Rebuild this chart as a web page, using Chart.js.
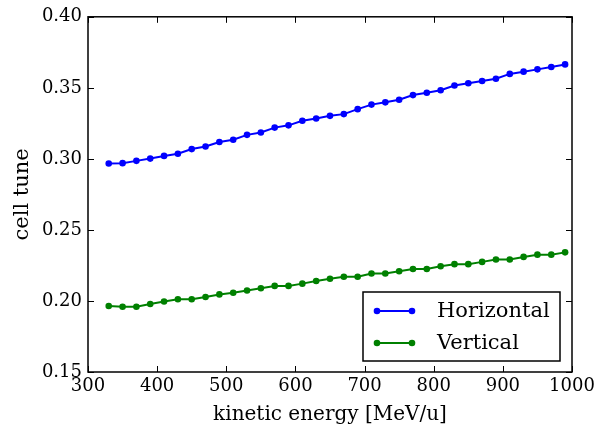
<!DOCTYPE html>
<html>
<head>
<meta charset="utf-8">
<script src="https://cdn.jsdelivr.net/npm/chart.js@4.4.0/dist/chart.umd.min.js"></script>
<style>
  html, body { margin: 0; padding: 0; background: #fff; }
  #wrap { width: 601px; height: 432px; }
</style>
</head>
<body>
<div id="wrap"><canvas id="tuneChart" width="601" height="432"></canvas></div>
<script>
const energies = [330, 350, 370, 390, 410, 430, 450, 470, 490, 510, 530, 550, 570, 590, 610, 630, 650,
    670, 690, 710, 730, 750, 770, 790, 810, 830, 850, 870, 890, 910, 930, 950, 970, 990];
const horizontalTune = [0.2968, 0.2970, 0.2986, 0.3002, 0.3021, 0.3036, 0.3069, 0.3087, 0.3119, 0.3135,
    0.3169, 0.3186, 0.3220, 0.3236, 0.3268, 0.3284, 0.3303, 0.3315, 0.3350, 0.3382, 0.3398, 0.3416,
    0.3449, 0.3465, 0.3483, 0.3516, 0.3532, 0.3548, 0.3564, 0.3598, 0.3614, 0.3630, 0.3647, 0.3665];
const verticalTune = [0.1964, 0.1959, 0.1959, 0.1979, 0.1996, 0.2012, 0.2012, 0.2028, 0.2046, 0.2058,
    0.2074, 0.2089, 0.2106, 0.2106, 0.2122, 0.2140, 0.2156, 0.2170, 0.2170, 0.2193, 0.2193, 0.2209,
    0.2225, 0.2225, 0.2244, 0.2259, 0.2259, 0.2275, 0.2292, 0.2292, 0.2310, 0.2326, 0.2326, 0.2342];
const seriesNames = ['Horizontal', 'Vertical'];
const xTicks = [300, 400, 500, 600, 700, 800, 900, 1000];
const yTicks = [0.15, 0.20, 0.25, 0.30, 0.35, 0.40];

const serif = "'DejaVu Serif', 'Liberation Serif', serif";

function toPoints(ys) {
    return energies.map((e, i) => ({ x: e, y: ys[i] }));
}

// frame + inward ticks on all four sides
const framePlugin = {
    id: 'frame',
    afterDatasetsDraw(chart) {
        const { ctx, chartArea: a, scales } = chart;
        ctx.save();
        ctx.strokeStyle = '#000';
        ctx.lineWidth = 1;
        const len = 6;
        ctx.beginPath();
        xTicks.forEach(v => {
            const px = Math.round(scales.x.getPixelForValue(v)) + 0.5;
            ctx.moveTo(px, a.bottom); ctx.lineTo(px, a.bottom - len);
            ctx.moveTo(px, a.top); ctx.lineTo(px, a.top + len);
        });
        yTicks.forEach(v => {
            const py = Math.round(scales.y.getPixelForValue(v)) + 0.5;
            ctx.moveTo(a.left, py); ctx.lineTo(a.left + len, py);
            ctx.moveTo(a.right, py); ctx.lineTo(a.right - len, py);
        });
        ctx.stroke();
        ctx.lineWidth = 1.5;
        ctx.strokeRect(a.left, a.top, a.right - a.left, a.bottom - a.top);
        ctx.restore();
    }
};

// legend box inside the lower right of the plot
const boxLegend = {
    id: 'boxLegend',
    afterDraw(chart) {
        const { ctx } = chart;
        const x0 = 363, y0 = 292, w = 197, h = 69;
        ctx.save();
        ctx.fillStyle = '#fff';
        ctx.fillRect(x0, y0, w, h);
        ctx.strokeStyle = '#000';
        ctx.lineWidth = 1.5;
        ctx.strokeRect(x0, y0, w, h);
        ctx.font = '21px ' + serif;
        ctx.textBaseline = 'middle';
        chart.data.datasets.forEach((ds, i) => {
            const y = y0 + 19 + i * 32;
            ctx.strokeStyle = ds.borderColor;
            ctx.lineWidth = 2;
            ctx.beginPath();
            ctx.moveTo(x0 + 14, y); ctx.lineTo(x0 + 49, y);
            ctx.stroke();
            ctx.fillStyle = ds.borderColor;
            [x0 + 14, x0 + 49].forEach(px => {
                ctx.beginPath();
                ctx.arc(px, y, 3.3, 0, Math.PI * 2);
                ctx.fill();
            });
            ctx.fillStyle = '#000';
            ctx.fillText(ds.label, x0 + 74, y + 1);
        });
        ctx.restore();
    }
};

new Chart(document.getElementById('tuneChart').getContext('2d'), {
    type: 'line',
    data: {
        datasets: [
            { label: seriesNames[0], data: toPoints(horizontalTune), borderColor: '#0000ff', backgroundColor: '#0000ff' },
            { label: seriesNames[1], data: toPoints(verticalTune), borderColor: '#008000', backgroundColor: '#008000' }
        ]
    },
    options: {
        responsive: false,
        animation: false,
        layout: { padding: { left: 0, right: 29, top: 9, bottom: 0 } },
        elements: {
            line: { borderWidth: 2, tension: 0 },
            point: { radius: 3.3, borderWidth: 0, hoverRadius: 3.3 }
        },
        plugins: { legend: { display: false }, tooltip: { enabled: false } },
        scales: {
            x: {
                type: 'linear',
                min: 300, max: 1000,
                afterBuildTicks: s => { s.ticks = xTicks.map(v => ({ value: v })); },
                afterFit: s => { s.height = 60; },
                grid: { display: false, drawTicks: false },
                border: { display: false },
                ticks: { color: '#000', font: { family: serif, size: 18 }, padding: 4, maxRotation: 0, callback: v => String(v) },
                title: { display: true, text: 'kinetic energy [MeV/u]', color: '#000', font: { family: serif, size: 20 }, padding: { top: 0, bottom: 5 } }
            },
            y: {
                min: 0.15, max: 0.40,
                afterBuildTicks: s => { s.ticks = yTicks.map(v => ({ value: v })); },
                afterFit: s => { s.width = 88; },
                grid: { display: false, drawTicks: false },
                border: { display: false },
                ticks: { color: '#000', font: { family: serif, size: 18 }, padding: 6, callback: v => v.toFixed(2) },
                title: { display: true, text: 'cell tune', color: '#000', font: { family: serif, size: 21 }, padding: { top: 10, bottom: 0 } }
            }
        }
    },
    plugins: [framePlugin, boxLegend]
});
</script>
</body>
</html>
